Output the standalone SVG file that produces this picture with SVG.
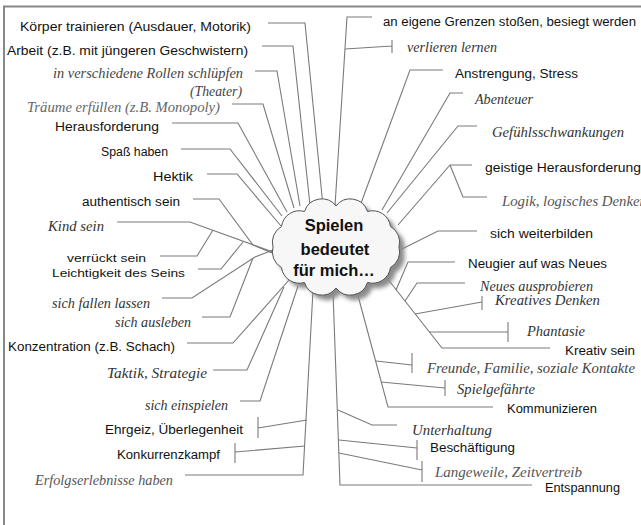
<svg xmlns="http://www.w3.org/2000/svg" width="641" height="525" viewBox="0 0 641 525">
<defs>
<style>
.s{font-family:"Liberation Sans",Arial,sans-serif;font-size:12px;fill:#111}
.i{font-family:"Liberation Serif","Times New Roman",serif;font-style:italic;font-size:14px;fill:#333}
.g{fill:#666}
.e{text-anchor:end}
.c{font-family:"Liberation Sans",Arial,sans-serif;font-weight:bold;font-size:16.5px;fill:#111;text-anchor:middle}
#connectors path{fill:none;stroke:#7a7a7a;stroke-width:1.1}
</style>
<filter id="blur" x="-20%" y="-20%" width="140%" height="140%"><feGaussianBlur stdDeviation="2"/></filter>
<path id="cloudShape" d="M399,247 A18,18 0 0 1 390.5,267.5 A18,18 0 0 1 367.5,282.5 A18,18 0 0 1 336,288 A18,18 0 0 1 304.5,282.5 A18,18 0 0 1 281.5,267.5 A18,18 0 0 1 273,247 A18,18 0 0 1 281.5,226.5 A18,18 0 0 1 304.5,211.5 A18,18 0 0 1 336,206 A18,18 0 0 1 367.5,211.5 A18,18 0 0 1 390.5,226.5 A18,18 0 0 1 399,247 Z"/>
</defs>
<rect width="641" height="525" fill="#fff"/>
<path d="M3,6.5 H641 M4,6 V525" stroke="#888" stroke-width="2" fill="none"/>

<g id="connectors">
<path d="M268,23 H305 L323,206"/>
<path d="M262,46 H293 L310,205"/>
<path d="M255,71 H277 L300,206"/>
<path d="M232,104 H263 L294,208"/>
<path d="M172,123 H238 L287,212"/>
<path d="M181,149 H230 L282,216"/>
<path d="M207,174 H237 L281,226"/>
<path d="M193,199 H219 L253,245 L272,253"/>
<path d="M117,222 H190 L273,252"/>
<path d="M160,256 H197 L213,230"/>
<path d="M198,269 H221 L243,242"/>
<path d="M162,298 H192 L255,257 L273,250"/>
<path d="M202,317 H230 L253,258"/>
<path d="M187,343 H233 L289,280"/>
<path d="M213,370 H247 L284,287"/>
<path d="M240,401 H260 L298,286"/>
<path d="M313,290 L303,475 H185"/>
<path d="M258,428 L307,420 M258,417 V438"/>
<path d="M235,452 L305,446 M235,443 V463"/>
<path d="M372,17 H347 L335,206"/>
<path d="M345,49 L392,46 M392,40 V53"/>
<path d="M443,70 H410 L360,206"/>
<path d="M463,93 H450 L382,210"/>
<path d="M477,126 H458 L387,213"/>
<path d="M472,165 H450 L398,225 M450,165 L463,197 H487"/>
<path d="M477,231 H438 L400,250"/>
<path d="M383,273 L442,348 H550"/>
<path d="M455,262 H408 L396,290"/>
<path d="M465,283 H417 L405,301"/>
<path d="M482,302 L415,314 M482,296 V310"/>
<path d="M508,332 H429 M508,322 V342"/>
<path d="M357,292 L388,407 H493"/>
<path d="M376,361 L412,365 M412,353 V373"/>
<path d="M381,382 L445,388 M445,380 V396"/>
<path d="M333,292 L340,485 H532"/>
<path d="M338,410 L372,425 H397"/>
<path d="M339,440 L417,448 M417,440 V460"/>
<path d="M339,453 L422,470 M422,461 V482"/>
</g>

<g id="center">
<use href="#cloudShape" transform="translate(5,5)" fill="#8a8a8a" filter="url(#blur)"/>
<use href="#cloudShape" fill="#f7f7f7" stroke="#555" stroke-width="1"/>
<text class="c" x="334" y="231">Spielen</text>
<text class="c" x="335" y="255">bedeutet</text>
<text class="c" x="334" y="276">für mich…</text>
</g>

<g id="n1"><text class="s e" x="251" y="31" textLength="231" lengthAdjust="spacingAndGlyphs">Körper trainieren (Ausdauer, Motorik)</text></g>
<g id="n2"><text class="s e" x="248" y="55" textLength="241" lengthAdjust="spacingAndGlyphs">Arbeit (z.B. mit jüngeren Geschwistern)</text></g>
<g id="n3"><text class="i e" x="243" y="78" textLength="190" lengthAdjust="spacingAndGlyphs" style="fill:#444">in verschiedene Rollen schlüpfen</text><text class="i e" x="242" y="96" textLength="52" lengthAdjust="spacingAndGlyphs" style="fill:#444">(Theater)</text></g>
<g id="n4"><text class="i e g" x="220" y="112" textLength="193" lengthAdjust="spacingAndGlyphs">Träume erfüllen (z.B. Monopoly)</text></g>
<g id="n5"><text class="s e" x="159" y="131" textLength="104" lengthAdjust="spacingAndGlyphs">Herausforderung</text></g>
<g id="n6"><text class="s e" x="168" y="156" textLength="67" lengthAdjust="spacingAndGlyphs">Spaß haben</text></g>
<g id="n7"><text class="s e" x="193" y="181" textLength="40" lengthAdjust="spacingAndGlyphs">Hektik</text></g>
<g id="n8"><text class="s e" x="180" y="206" textLength="98" lengthAdjust="spacingAndGlyphs">authentisch sein</text></g>
<g id="n9"><text class="i e" x="104" y="231" textLength="56" lengthAdjust="spacingAndGlyphs">Kind sein</text></g>
<g id="n10"><text class="s e" x="146" y="262" textLength="79" lengthAdjust="spacingAndGlyphs" style="font-size:11.5px">verrückt sein</text></g>
<g id="n11"><text class="s e" x="185" y="277" textLength="133" lengthAdjust="spacingAndGlyphs" style="font-size:11.5px">Leichtigkeit des Seins</text></g>
<g id="n12"><text class="i e" x="150" y="308" textLength="98" lengthAdjust="spacingAndGlyphs">sich fallen lassen</text></g>
<g id="n13"><text class="i e" x="191" y="327" textLength="76" lengthAdjust="spacingAndGlyphs">sich ausleben</text></g>
<g id="n14"><text class="s e" x="175" y="351" textLength="167" lengthAdjust="spacingAndGlyphs">Konzentration (z.B. Schach)</text></g>
<g id="n15"><text class="i e" x="207" y="378" textLength="100" lengthAdjust="spacingAndGlyphs">Taktik, Strategie</text></g>
<g id="n16"><text class="i e" x="228" y="410" textLength="83" lengthAdjust="spacingAndGlyphs">sich einspielen</text></g>
<g id="n17"><text class="s e" x="243" y="434" textLength="138" lengthAdjust="spacingAndGlyphs">Ehrgeiz, Überlegenheit</text></g>
<g id="n18"><text class="s e" x="220" y="459" textLength="103" lengthAdjust="spacingAndGlyphs">Konkurrenzkampf</text></g>
<g id="n19"><text class="i e" x="173" y="485" textLength="138" lengthAdjust="spacingAndGlyphs" style="fill:#555">Erfolgserlebnisse haben</text></g>

<g id="n20"><text class="s" x="383" y="26" textLength="253" lengthAdjust="spacingAndGlyphs">an eigene Grenzen stoßen, besiegt werden</text></g>
<g id="n21"><text class="i" x="407" y="52" textLength="90" lengthAdjust="spacingAndGlyphs">verlieren lernen</text></g>
<g id="n22"><text class="s" x="455" y="78" textLength="123" lengthAdjust="spacingAndGlyphs">Anstrengung, Stress</text></g>
<g id="n23"><text class="i" x="475" y="104" textLength="58" lengthAdjust="spacingAndGlyphs">Abenteuer</text></g>
<g id="n24"><text class="i" x="492" y="137" textLength="132" lengthAdjust="spacingAndGlyphs">Gefühlsschwankungen</text></g>
<g id="n25"><text class="s" x="485" y="172" textLength="156" lengthAdjust="spacingAndGlyphs">geistige Herausforderung</text></g>
<g id="n26"><text class="i" x="502" y="206" textLength="145" lengthAdjust="spacingAndGlyphs" style="fill:#555">Logik, logisches Denken</text></g>
<g id="n27"><text class="s" x="490" y="238" textLength="103" lengthAdjust="spacingAndGlyphs">sich weiterbilden</text></g>
<g id="n28"><text class="s" x="468" y="268" textLength="139" lengthAdjust="spacingAndGlyphs">Neugier auf was Neues</text></g>
<g id="n29"><text class="i" x="480" y="291" textLength="113" lengthAdjust="spacingAndGlyphs">Neues ausprobieren</text></g>
<g id="n30"><text class="i" x="495" y="305" textLength="105" lengthAdjust="spacingAndGlyphs">Kreatives Denken</text></g>
<g id="n31"><text class="i" x="527" y="336" textLength="58" lengthAdjust="spacingAndGlyphs">Phantasie</text></g>
<g id="n32"><text class="s" x="565" y="355" textLength="70" lengthAdjust="spacingAndGlyphs">Kreativ sein</text></g>
<g id="n33"><text class="i" x="427" y="373" textLength="208" lengthAdjust="spacingAndGlyphs" style="fill:#444">Freunde, Familie, soziale Kontakte</text></g>
<g id="n34"><text class="i" x="457" y="394" textLength="78" lengthAdjust="spacingAndGlyphs">Spielgefährte</text></g>
<g id="n35"><text class="s" x="507" y="413" textLength="90" lengthAdjust="spacingAndGlyphs">Kommunizieren</text></g>
<g id="n36"><text class="i" x="412" y="435" textLength="80" lengthAdjust="spacingAndGlyphs">Unterhaltung</text></g>
<g id="n37"><text class="s" x="430" y="452" textLength="85" lengthAdjust="spacingAndGlyphs">Beschäftigung</text></g>
<g id="n38"><text class="i" x="435" y="477" textLength="147" lengthAdjust="spacingAndGlyphs" style="fill:#555">Langeweile, Zeitvertreib</text></g>
<g id="n39"><text class="s" x="545" y="492" textLength="75" lengthAdjust="spacingAndGlyphs">Entspannung</text></g>
</svg>
